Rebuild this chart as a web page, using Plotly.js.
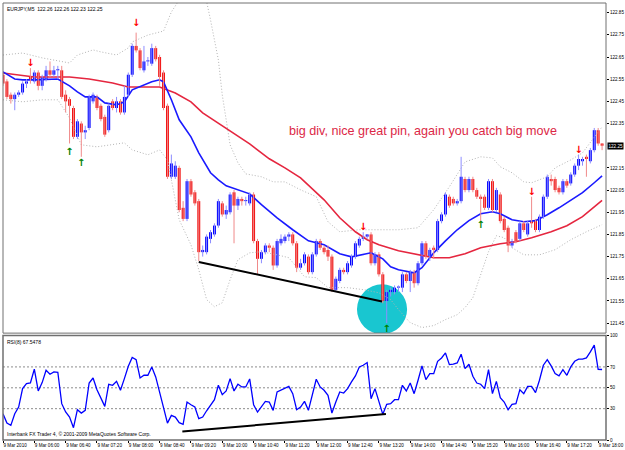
<!DOCTYPE html>
<html><head><meta charset="utf-8">
<script src="https://cdn.plot.ly/plotly-3.0.1.min.js"></script>
<style>html,body{margin:0;padding:0;background:#fff}#chart{width:625px;height:450px}</style>
</head><body><div id="chart"></div>
<script>
// ---- OHLC, EURJPY M5, bars 05:20 .. 18:05 ----
const open = [
122.57,122.54,122.48,122.46,122.48,122.49,122.53,122.56,122.54,122.58,
122.52,122.55,122.59,122.57,122.59,122.59,122.48,122.46,122.42,122.29,
122.35,122.31,122.33,122.45,122.47,122.43,122.38,122.32,122.45,122.42,
122.45,122.40,122.48,122.57,122.70,122.68,122.59,122.63,122.62,122.69,
122.65,122.58,122.43,122.11,122.11,122.15,121.97,121.92,122.09,122.04,
122.00,121.77,121.77,121.83,121.85,121.89,121.99,121.94,121.95,122.04,
121.98,122.01,122.00,121.99,122.03,121.82,121.74,121.77,121.80,121.79,
121.71,121.81,121.82,121.84,121.85,121.81,121.70,121.72,121.75,121.68,
121.76,121.82,121.79,121.78,121.75,121.60,121.64,121.69,121.68,121.71,
121.75,121.80,121.83,121.84,121.85,121.72,121.76,121.67,121.55,121.59,
121.59,121.61,121.61,121.67,121.64,121.68,121.63,121.72,121.81,121.75,
121.79,121.78,121.91,121.94,122.02,122.01,121.99,122.00,122.10,122.05,
122.10,122.05,122.02,122.02,121.97,122.09,121.96,122.03,121.92,121.88,
121.80,121.86,121.83,121.90,121.85,121.91,121.91,121.87,121.93,122.02,
122.10,122.10,122.06,122.04,122.09,122.08,122.12,122.16,122.18,122.20,
122.18,122.23,122.32,122.26];
const high = [
122.58,122.55,122.49,122.49,122.50,122.54,122.55,122.60,122.59,122.59,
122.57,122.61,122.63,122.61,122.61,122.61,122.50,122.47,122.43,122.37,
122.36,122.34,122.48,122.49,122.48,122.44,122.39,122.44,122.46,122.47,
122.46,122.52,122.58,122.71,122.76,122.69,122.70,122.65,122.71,122.70,
122.66,122.59,122.44,122.21,122.18,122.16,122.00,122.10,122.10,122.05,
122.01,121.80,121.85,121.87,121.90,122.01,122.00,121.98,122.04,122.05,
122.02,122.02,122.02,122.04,122.04,121.83,121.78,121.81,121.81,121.80,
121.83,121.85,121.85,121.86,121.86,121.82,121.74,121.77,121.76,121.77,
121.83,121.83,121.80,121.80,121.76,121.66,121.70,121.70,121.73,121.76,
121.82,121.84,121.86,121.85,121.86,121.77,121.77,121.68,121.60,121.61,
121.62,121.62,121.68,121.68,121.69,121.69,121.73,121.82,121.82,121.79,
121.80,121.92,121.95,122.04,122.03,122.02,122.01,122.20,122.11,122.11,
122.11,122.06,122.03,122.03,122.10,122.10,122.06,122.04,121.93,121.89,
121.83,121.87,121.91,121.91,121.91,122.02,121.92,121.94,122.03,122.12,
122.12,122.11,122.07,122.10,122.10,122.13,122.17,122.21,122.20,122.21,
122.24,122.33,122.33,122.26];
const low = [
122.52,122.46,122.44,122.41,122.47,122.48,122.51,122.53,122.53,122.50,
122.50,122.54,122.56,122.56,122.55,122.46,122.40,122.26,122.28,122.28,
122.20,122.28,122.32,122.44,122.41,122.36,122.29,122.31,122.41,122.40,
122.39,122.39,122.47,122.56,122.67,122.59,122.58,122.61,122.61,122.63,
122.52,122.41,122.10,122.10,122.10,121.95,121.91,121.91,122.02,121.98,
121.73,121.75,121.76,121.81,121.84,121.88,121.93,121.92,121.94,121.81,
121.96,121.98,121.98,121.98,121.81,121.67,121.72,121.76,121.77,121.69,
121.70,121.80,121.81,121.82,121.80,121.68,121.69,121.71,121.67,121.67,
121.75,121.78,121.76,121.73,121.59,121.59,121.63,121.67,121.67,121.70,
121.74,121.79,121.82,121.83,121.71,121.71,121.66,121.54,121.45,121.57,
121.58,121.59,121.59,121.63,121.59,121.61,121.62,121.71,121.74,121.73,
121.74,121.77,121.90,121.93,121.97,121.98,121.98,121.99,122.04,122.04,
122.04,122.01,121.91,121.96,121.96,121.95,121.95,121.90,121.86,121.77,
121.79,121.81,121.82,121.86,121.84,121.88,121.86,121.86,121.92,122.01,
122.07,122.04,122.03,122.03,122.06,122.07,122.11,122.14,122.16,122.11,
122.17,122.22,122.25,122.23];
const close = [
122.53,122.47,122.46,122.48,122.49,122.53,122.54,122.55,122.58,122.52,
122.56,122.59,122.57,122.59,122.59,122.47,122.45,122.43,122.29,122.36,
122.31,122.32,122.47,122.48,122.42,122.37,122.30,122.43,122.42,122.45,
122.40,122.47,122.57,122.70,122.68,122.60,122.63,122.63,122.69,122.64,
122.56,122.42,122.11,122.17,122.16,121.96,121.92,122.09,122.03,121.99,
121.77,121.78,121.84,121.86,121.89,122.00,121.94,121.96,122.03,121.98,
122.01,122.00,122.00,122.03,121.82,121.74,121.77,121.80,121.79,121.71,
121.82,121.83,121.84,121.85,121.81,121.70,121.72,121.76,121.68,121.76,
121.82,121.79,121.77,121.75,121.60,121.65,121.69,121.68,121.72,121.75,
121.81,121.83,121.84,121.85,121.72,121.76,121.67,121.55,121.59,121.60,
121.61,121.61,121.67,121.64,121.68,121.63,121.72,121.81,121.75,121.78,
121.78,121.91,121.94,122.03,121.98,121.99,122.00,122.11,122.05,122.10,
122.05,122.02,122.01,121.97,122.09,121.96,122.05,121.91,121.87,121.80,
121.82,121.82,121.90,121.87,121.90,121.90,121.87,121.93,122.02,122.11,
122.09,122.05,122.04,122.09,122.07,122.12,122.16,122.19,122.19,122.19,
122.23,122.32,122.26,122.25];

// ---- RSI(8) ----
const rsi = [
25.2,16.2,14,25.2,31.6,49.2,54,54.6,67.8,47,
55,66.8,63,65.2,64.9,34.8,26.8,22,11.8,29,
25.8,28.4,54.6,59.4,48.2,39.6,32.2,53.4,52.4,56.2,
47.6,58.8,70.6,79,77,59.4,62,62,70,60.4,
44.4,31,16.2,23.6,22,16.6,15,36.4,33.8,31.6,
20.4,22,28,33.5,38.6,52.4,43.4,47,58.8,47,
53.4,50.8,50.8,58.5,33.8,26.8,31.6,37,36.4,28.4,
46,47.6,49.2,51.4,44.4,29,31.6,37,28.4,43.8,
58.2,50.8,47.6,42.8,25.8,36.4,46,45,49.2,55.6,
61.4,70,71.6,74.2,39.6,49.2,38,24.6,34.2,34.8,
38.6,38.6,52.4,47,54.6,44.4,57.2,71,57.8,63.6,
63.6,75.4,78.6,83.4,72.2,72.6,73.8,82.2,68.4,72.6,
61,54.6,53.4,49.2,67.4,44.4,56.2,40.6,36.4,29,
34.2,34.8,48.2,44.4,51.4,51.4,45.4,57.2,71.6,77,
71,63.6,61.4,67.4,62,70,75.4,77.4,77.4,78.6,
84.4,90.8,67.6,67.55];

// ---- moving averages / bands ----
const blueIdx = [0,3,5,8,14,17,19,21,24,26,29,31,33,35,38,40,41,43,45,48,50,53,55,57,60,63,66,70,74,78,82,86,89,92,94,97,99,101,105,107,110,113,116,119,122,125,127,130,133,136,139,142,145,148,151,153];
const blueMA = [122.583,122.551,122.547,122.547,122.551,122.520,122.493,122.470,122.470,122.443,122.434,122.448,122.502,122.515,122.538,122.547,122.538,122.457,122.367,122.290,122.218,122.128,122.096,122.069,122.051,122.033,121.984,121.925,121.871,121.821,121.803,121.763,121.749,121.758,121.767,121.740,121.704,121.691,121.677,121.700,121.767,121.821,121.871,121.912,121.943,121.952,121.943,121.916,121.907,121.912,121.939,121.970,122.006,122.038,122.083,122.114];
const redIdx = [0,8,17,22,28,32,37,40,44,48,51,57,63,68,72,76,82,86,90,93,96,101,105,110,114,118,122,127,131,135,140,144,148,153];
const redMA = [122.578,122.560,122.560,122.551,122.533,122.515,122.515,122.515,122.488,122.448,122.398,122.326,122.258,122.191,122.150,122.105,122.006,121.925,121.862,121.826,121.803,121.776,121.763,121.745,121.745,121.763,121.790,121.808,121.817,121.835,121.862,121.889,121.930,122.003];
const bandUpIdx = [0,5,10,15,17,19,23,25,29,32,33,37,41,43,45,48,52,53,55,56,58,60,62,66,69,72,76,80,83,86,91,101,106,110,114,118,122,125,127,130,133,135,139,141,145,148,151,153];
const bandUp = [122.659,122.668,122.646,122.628,122.623,122.659,122.682,122.673,122.659,122.691,122.718,122.749,122.767,122.853,122.907,122.975,122.900,122.817,122.637,122.479,122.254,122.173,122.123,122.110,122.087,122.087,122.051,122.020,121.907,121.862,121.871,121.871,121.880,121.961,122.065,122.177,122.200,122.195,122.155,122.128,122.087,122.083,122.110,122.150,122.186,122.218,122.290,122.335];
const bandLoIdx = [0,5,10,14,17,20,24,28,31,33,37,40,42,45,48,50,52,54,56,58,60,63,66,70,73,77,80,83,88,92,96,99,101,104,107,110,113,116,118,120,122,124,126,128,130,133,137,141,145,149,153];
const bandLo = [122.457,122.448,122.457,122.457,122.375,122.254,122.245,122.254,122.263,122.231,122.209,122.231,122.186,121.916,121.803,121.691,121.556,121.524,121.542,121.646,121.736,121.767,121.772,121.758,121.745,121.659,121.655,121.610,121.610,121.601,121.587,121.556,121.511,121.452,121.430,121.439,121.466,121.488,121.520,121.565,121.668,121.772,121.844,121.835,121.790,121.758,121.758,121.781,121.826,121.862,121.894];

// ---- fractal arrows ----
const fracDownIdx = [7,34,92,135,147];
const fracDownPrice = [122.62,122.80,121.88,122.04,122.23];
const fracUpIdx = [17,20,98,122];
const fracUpPrice = [122.22,122.17,121.42,121.89];

// ---- hand-drawn trendlines / ellipse (chart values) ----
const trendPriceBars = [50,96.8], trendPriceVals = [121.726,121.548];
const trendRsiBars = [45.8,97.8], trendRsiVals = [8.2,24.9];
const ellipseBars = [90.4,103.2], ellipsePrices = [121.40,121.625];

// ---- axes ----
const tickBars = [0,8,16,24,32,40,48,56,64,72,80,88,96,104,112,120,128,136,144,152];
const tickLabels = ['9 Mar 2010','9 Mar 06:00','9 Mar 06:40','9 Mar 07:20','9 Mar 08:00','9 Mar 08:40','9 Mar 09:20','9 Mar 10:00','9 Mar 10:40','9 Mar 11:20','9 Mar 12:00','9 Mar 12:40','9 Mar 13:20','9 Mar 14:00','9 Mar 14:40','9 Mar 15:20','9 Mar 16:00','9 Mar 16:40','9 Mar 17:20','9 Mar 18:00'];
const priceTicks = [121.45,121.55,121.65,121.75,121.85,121.95,122.05,122.15,122.35,122.45,122.55,122.65,122.75,122.85];
const rsiTicks = [0,30,50,70,100];
const rsiLevels = [30,50,70];
const lastPrice = 122.25;

const bars = open.map((_, i) => i);
const upIdx = bars.filter(i => close[i] >= open[i]);
const dnIdx = bars.filter(i => close[i] < open[i]);

function wicks(idxs, color){
  const x=[], y=[];
  idxs.forEach(i => { x.push(i,i,null); y.push(low[i],high[i],null); });
  return {type:'scatter',mode:'lines',x,y,line:{color,width:1},hoverinfo:'skip',xaxis:'x',yaxis:'y',connectgaps:false};
}
function bodies(idxs, color){
  return {type:'bar',x:idxs,
    base: idxs.map(i => Math.min(open[i],close[i])),
    y: idxs.map(i => Math.max(Math.abs(close[i]-open[i]),0.005)),
    width:0.75, marker:{color,line:{width:0}}, xaxis:'x', yaxis:'y', hoverinfo:'skip'};
}
function line(xs, ys, color, width, dash){
  return {type:'scatter',mode:'lines',x:xs,y:ys,line:{color,width,dash:dash||'solid'},xaxis:'x',yaxis:'y',hoverinfo:'skip'};
}

const traces = [
  line(bandUpIdx, bandUp, '#b4b4b4', 1, '1px,2px'),
  line(bandLoIdx, bandLo, '#b4b4b4', 1, '1px,2px'),
  line(redIdx, redMA, '#e5263f', 1.6),
  line(blueIdx, blueMA, '#1a1aff', 1.6),
  wicks(dnIdx, '#f08a8a'),
  wicks(upIdx, '#8d8dff'),
  bodies(dnIdx, '#f21010'),
  bodies(upIdx, '#0000ff'),
  {type:'scatter',mode:'text',x:fracDownIdx,y:fracDownPrice,text:fracDownIdx.map(()=>'<b>↓</b>'),
   textfont:{family:'DejaVu Sans',size:10,color:'#ff0000'},xaxis:'x',yaxis:'y',hoverinfo:'skip'},
  {type:'scatter',mode:'text',x:fracUpIdx,y:fracUpPrice,text:fracUpIdx.map(()=>'<b>↑</b>'),
   textfont:{family:'DejaVu Sans',size:10,color:'#008000'},xaxis:'x',yaxis:'y',hoverinfo:'skip'},
  {type:'scatter',mode:'lines',x:bars,y:rsi,line:{color:'#0000ff',width:1.3},xaxis:'x',yaxis:'y2',hoverinfo:'skip'}
];

const mainBottom = 0.2446, rsiTop = 0.2389;
const fnt = 'Liberation Sans, Arial, sans-serif';
const small = {family:fnt,size:4.6,color:'#000'};
const shapes = [
  {type:'circle',xref:'x',yref:'y',x0:ellipseBars[0],x1:ellipseBars[1],y0:ellipsePrices[0],y1:ellipsePrices[1],
   fillcolor:'#19c6d0',line:{width:0},layer:'below'},
  {type:'line',xref:'x',yref:'y',x0:trendPriceBars[0],x1:trendPriceBars[1],y0:trendPriceVals[0],y1:trendPriceVals[1],
   line:{color:'#000',width:2}},
  {type:'line',xref:'x',yref:'y2',x0:trendRsiBars[0],x1:trendRsiBars[1],y0:trendRsiVals[0],y1:trendRsiVals[1],
   line:{color:'#000',width:2}},
  {type:'rect',xref:'paper',yref:'paper',x0:0,x1:1,y0:mainBottom,y1:1,line:{color:'#707070',width:1}},
  {type:'rect',xref:'paper',yref:'paper',x0:0,x1:1,y0:0,y1:rsiTop,line:{color:'#707070',width:1.5}}
];
rsiLevels.forEach(v => shapes.push({type:'line',xref:'paper',yref:'y2',x0:0,x1:1,y0:v,y1:v,
  line:{color:'#8c8c8c',width:1,dash:'2px,2px'},layer:'below'}));

const annotations = [
  {xref:'paper',yref:'paper',x:0,y:1,xanchor:'left',yanchor:'top',xshift:2,yshift:-1,showarrow:false,
   text:'EURJPY,M5\u00a0 122.26 122.26 122.23 122.25',font:{family:fnt,size:5,color:'#000'}},
  {xref:'paper',yref:'paper',x:0,y:rsiTop,xanchor:'left',yanchor:'top',xshift:2,yshift:-1,showarrow:false,
   text:'RSI(8) 67.5478',font:{family:fnt,size:5,color:'#000'}},
  {xref:'paper',yref:'paper',x:0,y:0,xanchor:'left',yanchor:'bottom',xshift:2,yshift:1,showarrow:false,
   text:'Interbank FX Trader 4, © 2001-2009 MetaQuotes Software Corp.',font:{family:fnt,size:5,color:'#000'}},
  {xref:'paper',yref:'paper',x:0.4702,y:0.7074,xanchor:'left',yanchor:'middle',showarrow:false,
   text:'big div, nice great pin, again you catch big move',font:{family:fnt,size:12.6,color:'#dc2846'}},
  {xref:'paper',yref:'y',x:1,y:lastPrice,xanchor:'left',yanchor:'middle',xshift:1,showarrow:false,
   text:lastPrice.toFixed(2),bgcolor:'#000',borderpad:0.5,font:{family:fnt,size:4.6,color:'#fff'}}
];

const layout = {
  width:625,height:450,paper_bgcolor:'#fff',plot_bgcolor:'#fff',
  margin:{l:3,r:19,t:3,b:9.5,pad:0},
  barmode:'overlay',showlegend:false,
  font:{family:fnt,size:5,color:'#000'},
  xaxis:{domain:[0,1],range:[0,154],anchor:'y2',tickvals:tickBars,ticktext:tickLabels,tickangle:0,
    ticks:'outside',ticklen:2,tickwidth:1,tickcolor:'#000',ticklabelposition:'outside right',
    tickfont:small,showgrid:false,zeroline:false,showline:false,automargin:false},
  yaxis:{domain:[mainBottom,1],range:[121.405,122.8935],side:'right',anchor:'x',
    tickvals:priceTicks,ticktext:priceTicks.map(v=>v.toFixed(2)),ticks:'outside',ticklen:2,tickcolor:'#000',
    tickfont:small,showgrid:false,zeroline:false,showline:false,automargin:false},
  yaxis2:{domain:[0,rsiTop],range:[0,100],side:'right',anchor:'x',
    tickvals:rsiTicks,ticktext:rsiTicks.map(String),ticks:'outside',ticklen:2,tickcolor:'#000',
    tickfont:small,showgrid:false,zeroline:false,showline:false,automargin:false},
  shapes, annotations
};

Plotly.newPlot('chart', traces, layout, {staticPlot:true,displayModeBar:false});
</script>
</body></html>
